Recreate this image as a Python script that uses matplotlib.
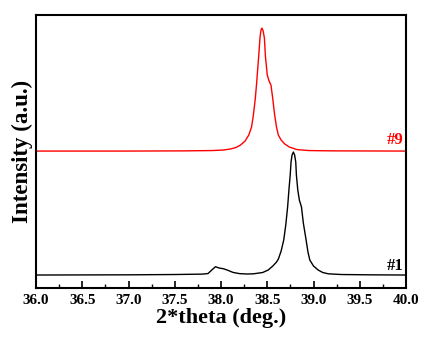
import matplotlib
matplotlib.use("Agg")
import matplotlib.pyplot as plt
from matplotlib.ticker import MultipleLocator, FormatStrFormatter

plt.rcParams['font.family'] = ['Liberation Serif', 'DejaVu Serif']
plt.rcParams['font.weight'] = 'bold'

# sample #1 (black)
two_theta_1 = [36.0, 37.0, 37.5, 37.8, 37.86, 37.90, 37.94, 37.98, 38.03, 38.08,
               38.13, 38.2, 38.28, 38.35, 38.45, 38.51, 38.56, 38.60, 38.62, 38.65,
               38.678, 38.70, 38.72, 38.735, 38.748, 38.757, 38.768, 38.782, 38.796, 38.808,
               38.815, 38.83, 38.847, 38.87, 38.89, 38.92, 38.94, 38.96, 39.0, 39.05,
               39.1, 39.16, 39.3, 39.6, 40.0]
intensity_1 = [0, 0.2, 0.5, 0.9, 1.5, 5, 8.3, 7, 6.2, 4.5,
               2.6, 1.4, 1, 1.2, 2.5, 5, 9, 13, 16, 24,
               35, 50, 68, 86, 100, 113, 120, 123, 120, 113,
               100, 85, 75, 68, 52, 35, 23, 15, 9, 5,
               2.5, 1.2, 0.5, 0.2, 0]

# sample #9 (red)
two_theta_9 = [36.0, 37.0, 37.6, 37.9, 38.02, 38.10, 38.16, 38.21, 38.26, 38.30,
               38.33, 38.35, 38.37, 38.386, 38.40, 38.413, 38.422, 38.432, 38.443, 38.456,
               38.469, 38.48, 38.50, 38.52, 38.54, 38.56, 38.58, 38.60, 38.62, 38.65,
               38.69, 38.74, 38.82, 38.95, 39.2, 40.0]
intensity_9 = [0, 0, 0.2, 0.5, 1, 2, 3.5, 6, 10, 16,
               24, 36, 52, 69, 86, 102, 114, 121, 123, 120,
               113, 95, 76, 70, 66, 52, 36, 24, 16, 11,
               7, 4, 1.5, 0.5, 0.2, 0]

offset_9 = 124

fig = plt.figure(figsize=(4.34, 3.39), dpi=100)
ax = fig.add_axes([0.083, 0.1504, 0.8525, 0.805])

ax.plot(two_theta_1, intensity_1, color='black', lw=1.0)
ax.plot(two_theta_9, [v + offset_9 for v in intensity_9], color='red', lw=1.0)

ax.text(39.97, 1.5, '#1', color='black', ha='right', va='bottom', fontsize=12, fontweight='bold')
ax.text(39.97, offset_9 + 3, '#9', color='red', ha='right', va='bottom', fontsize=12, fontweight='bold')

ax.set_xlim(36.0, 40.0)
ax.set_ylim(-13, 260)
ax.xaxis.set_major_locator(MultipleLocator(0.5))
ax.xaxis.set_minor_locator(MultipleLocator(0.25))
ax.xaxis.set_major_formatter(FormatStrFormatter('%.1f'))
ax.set_yticks([])
ax.tick_params(axis='x', which='major', direction='in', length=5, width=1.2, pad=4, labelsize=11)
ax.tick_params(axis='x', which='minor', direction='in', length=3, width=1.0)
for lbl in ax.get_xticklabels():
    lbl.set_fontweight('bold')
for s in ax.spines.values():
    s.set_linewidth(1.5)

ax.set_xlabel('2*theta (deg.)', fontsize=16, fontweight='bold', labelpad=1)
ax.set_ylabel('Intensity (a.u.)', fontsize=16.5, fontweight='bold', labelpad=2)

fig.savefig('out.png', dpi=100)
